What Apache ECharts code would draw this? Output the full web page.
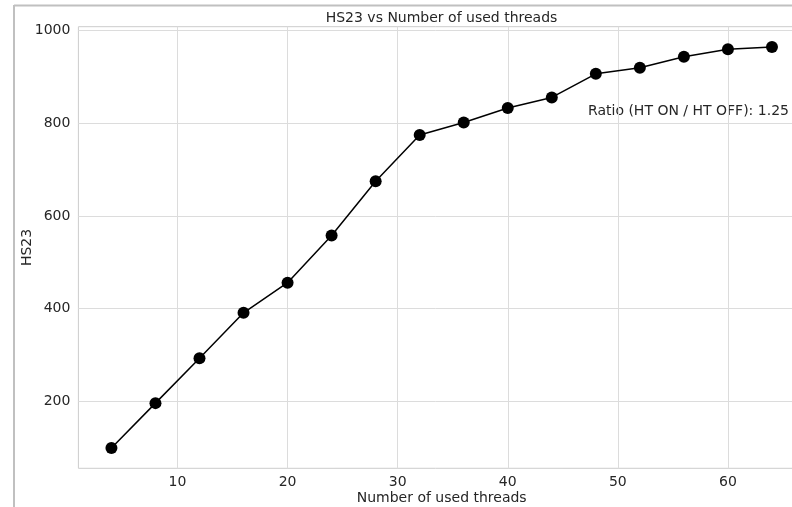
<!DOCTYPE html>
<html>
<head>
<meta charset="utf-8">
<script src="https://cdn.jsdelivr.net/npm/echarts@6/dist/echarts.min.js"></script>
<style>html,body{margin:0;padding:0;background:#fff}#c{width:792px;height:507px}</style>
</head>
<body>
<div id="c"></div>
<script>
var threads = [4, 8, 12, 16, 20, 24, 28, 32, 36, 40, 44, 48, 52, 56, 60, 64];
var hs23 = [99, 196, 293, 391, 456, 558, 675, 775, 802, 833, 856, 907, 920, 944, 960, 965];
var xTicks = [10, 20, 30, 40, 50, 60];
var yTicks = [200, 400, 600, 800, 1000];
var titleText = 'HS23 vs Number of used threads';
var xName = 'Number of used threads';
var yName = 'HS23';
var noteText = 'Ratio (HT ON / HT OFF): 1.25';

var FONT = 'DejaVu Sans';
var TXT = '#262626';
var FS = 14;
var chart = echarts.init(document.getElementById('c'), null, {renderer: 'canvas'});
chart.setOption({
  animation: false,
  backgroundColor: '#fff',
  grid: {left: 78.4, top: 26.7, width: 726.6, height: 441.6, show: true, borderColor: '#cccccc', borderWidth: 1, containLabel: false, outerBoundsMode: 'none'},
  xAxis: {
    type: 'value', min: 1, max: 67,
    name: xName, nameLocation: 'middle', nameGap: 23, nameMoveOverlap: false,
    nameTextStyle: {fontFamily: FONT, fontSize: FS, color: TXT},
    axisLine: {show: false},
    axisTick: {show: false, customValues: xTicks},
    axisLabel: {customValues: xTicks, fontFamily: FONT, fontSize: FS, color: TXT, margin: 7, formatter: function (v) { return String(v); }},
    splitLine: {show: true, lineStyle: {color: '#dcdcdc', width: 1}}
  },
  yAxis: {
    type: 'value', min: 55.3, max: 1008.7,
    name: yName, nameLocation: 'middle', nameGap: 44, nameRotate: 90, nameMoveOverlap: false,
    nameTextStyle: {fontFamily: FONT, fontSize: FS, color: TXT},
    axisLine: {show: false},
    axisTick: {show: false, customValues: yTicks},
    axisLabel: {customValues: yTicks, fontFamily: FONT, fontSize: FS, color: TXT, margin: 8, formatter: function (v) { return String(v); }},
    splitLine: {show: true, lineStyle: {color: '#dcdcdc', width: 1}}
  },
  graphic: [
    {type: 'line', shape: {x1: 14, y1: 5.5, x2: 792, y2: 5.5}, style: {stroke: '#c0c0c0', lineWidth: 2}, silent: true},
    {type: 'line', shape: {x1: 14, y1: 5, x2: 14, y2: 507}, style: {stroke: '#c0c0c0', lineWidth: 2}, silent: true},
    {type: 'text', x: 441.5, y: 18.5, style: {text: titleText, fontFamily: FONT, fontSize: FS, fill: TXT, textAlign: 'center', textVerticalAlign: 'middle'}},
    {type: 'text', x: 588, y: 111.5, style: {text: noteText, fontFamily: FONT, fontSize: FS, fill: TXT, textAlign: 'left', textVerticalAlign: 'middle'}}
  ],
  series: [{
    type: 'line',
    data: threads.map(function (t, i) { return [t, hs23[i]]; }),
    symbol: 'circle', symbolSize: 12,
    itemStyle: {color: '#000'},
    lineStyle: {color: '#000', width: 1.5},
    clip: false
  }]
});
</script>
</body>
</html>
